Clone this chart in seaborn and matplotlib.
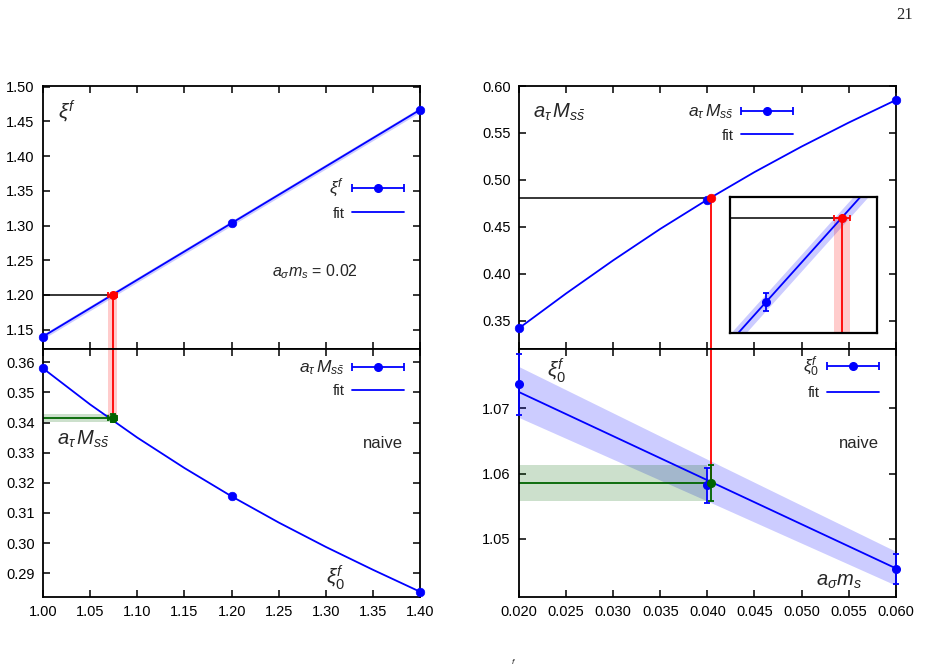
import numpy as np
import matplotlib
matplotlib.use('Agg')
import matplotlib.pyplot as plt
import seaborn as sns
from matplotlib.lines import Line2D
from matplotlib.container import ErrorbarContainer
from matplotlib.legend_handler import HandlerErrorbar
from matplotlib.ticker import FormatStrFormatter

sns.set_style('ticks')
plt.rcParams['font.family'] = ['Liberation Sans', 'DejaVu Sans']
plt.rcParams['mathtext.fontset'] = 'custom'
plt.rcParams['mathtext.rm'] = 'Liberation Sans'
plt.rcParams['mathtext.it'] = 'Liberation Sans:italic'
plt.rcParams['mathtext.bf'] = 'Liberation Sans:bold'
####################################################################
# left column: bare anisotropy xi on the x axis
xi_pts = [1.00, 1.20, 1.40]
xif_pts = [1.140, 1.303, 1.467]
xif_fit_x = [1.00, 1.40]
xif_fit = [1.140, 1.467]
xif_fit_lo = [1.1365, 1.4635]
xif_fit_hi = [1.1435, 1.4705]

mss_pts = [0.3580, 0.3157, 0.2838]
mss_fit_x = [1.00, 1.05, 1.10, 1.15, 1.20, 1.25, 1.30, 1.35, 1.40]
mss_fit = [0.3580, 0.3460, 0.3350, 0.3249, 0.3155, 0.3068, 0.2987, 0.2911, 0.2838]

xi_tuned, xi_tuned_err = 1.0739, 0.0045
xif_target = 1.20
mss_tuned, mss_tuned_err = 0.3415, 0.00125

# right column: strange quark mass a_sigma m_s on the x axis
ms_pts = [0.020, 0.03995, 0.060]
mss_r_pts = [0.342, 0.479, 0.585]
ms_fit_x = [0.020, 0.025, 0.030, 0.035, 0.040, 0.045, 0.050, 0.055, 0.060]
mss_r_fit = [0.342, 0.379, 0.4143, 0.4478, 0.479, 0.5083, 0.5355, 0.561, 0.585]

xi0_pts = [1.0737, 1.0582, 1.0454]
xi0_err = [0.0047, 0.0027, 0.0023]
xi0_fit_x = [0.020, 0.040, 0.060]
xi0_fit = [1.0725, 1.0590, 1.0455]
xi0_fit_lo = [1.0686, 1.0558, 1.0429]
xi0_fit_hi = [1.0764, 1.0622, 1.0481]

ms_tuned, ms_tuned_err = 0.0404, 0.000043
mss_phys = 0.481
xi0_tuned, xi0_tuned_err = 1.0586, 0.0028

# inset (zoom around the tuned point)
ins_fit_x = [0.0398, 0.0406]
ins_fit = [0.4780, 0.4820]
ins_band = 0.0002
ins_pt_x, ins_pt_y, ins_pt_err = 0.0400, 0.479, 0.00022
####################################################################
BLUE = '#0000ff'
RED = '#ff0000'
GREEN = '#006400'
MSS = r'$a_\tau\, M_{s\bar{s}}$'


def frame(ax, xlim, ylim, xticks, yticks, xfmt, yfmt, xlabels=True):
    ax.set_xlim(xlim)
    ax.set_ylim(ylim)
    ax.set_xticks(xticks)
    ax.set_yticks(yticks)
    ax.xaxis.set_major_formatter(FormatStrFormatter(xfmt))
    ax.yaxis.set_major_formatter(FormatStrFormatter(yfmt))
    ax.tick_params(direction='in', top=True, right=True, length=5, width=1.1,
                   labelsize=10.5, pad=6, colors='black')
    if not xlabels:
        ax.tick_params(labelbottom=False)
    for s in ax.spines.values():
        s.set_linewidth(1.3)
        s.set_color('black')
    ax.set_facecolor('white')


def legend(ax, label, anchor):
    h_pts = ax.errorbar([np.nan], [np.nan], xerr=[np.nan], fmt='o', color=BLUE,
                        ms=5.5, capsize=3, elinewidth=1.3, capthick=1.3)
    h_fit = Line2D([], [], color=BLUE, lw=1.3)
    leg = ax.legend([h_pts, h_fit], [label, 'fit'], loc='center right', bbox_to_anchor=anchor,
                    markerfirst=False, frameon=False, handlelength=3.4, fontsize=11,
                    labelspacing=0.5, borderpad=0, borderaxespad=0, handletextpad=0.5,
                    handler_map={ErrorbarContainer: HandlerErrorbar(xerr_size=1.7)})
    leg.get_texts()[0].set_fontsize(12.5)


fig = plt.figure(figsize=(9.26, 6.68), dpi=100)
ax1 = fig.add_axes([0.0464, 0.4775, 0.4075, 0.3937])
ax2 = fig.add_axes([0.0464, 0.1063, 0.4075, 0.3712])
ax3 = fig.add_axes([0.5605, 0.4775, 0.4068, 0.3937])
ax4 = fig.add_axes([0.5605, 0.1063, 0.4068, 0.3712])

xt_left = np.arange(1.00, 1.401, 0.05)
xt_right = np.arange(0.020, 0.0601, 0.005)

# ---------------- top left ----------------
frame(ax1, (1.00, 1.40), (1.122, 1.501), xt_left, np.arange(1.15, 1.501, 0.05),
      '%.2f', '%.2f', xlabels=False)
ax1.fill_between(xif_fit_x, xif_fit_lo, xif_fit_hi, color=BLUE, alpha=0.2, lw=0)
sns.lineplot(x=xif_fit_x, y=xif_fit, ax=ax1, color=BLUE, lw=1.3)
sns.scatterplot(x=xi_pts, y=xif_pts, ax=ax1, color=BLUE, s=38, edgecolor=BLUE,
                zorder=5, clip_on=False)
ax1.fill_betweenx([1.122, xif_target], xi_tuned - xi_tuned_err, xi_tuned + xi_tuned_err,
                  color=RED, alpha=0.2, lw=0)
ax1.plot([1.00, xi_tuned], [xif_target, xif_target], color='black', lw=1.1)
ax1.plot([xi_tuned, xi_tuned], [1.122, xif_target], color=RED, lw=1.3)
ax1.errorbar([xi_tuned], [xif_target], xerr=[xi_tuned_err], fmt='o', color=RED, ms=5.5,
             capsize=2.5, elinewidth=1.3, capthick=1.3, zorder=6)
ax1.text(0.04, 0.90, r'$\xi^f$', transform=ax1.transAxes, fontsize=15, ha='left', va='center')
ax1.text(0.72, 0.294, r'$a_\sigma m_s$ = 0.02', transform=ax1.transAxes, fontsize=11.5,
         ha='center', va='center')
legend(ax1, r'$\xi^f$', (0.957, 0.572))

# ---------------- bottom left ----------------
frame(ax2, (1.00, 1.40), (0.2821, 0.3644), xt_left, np.arange(0.29, 0.3601, 0.01),
      '%.2f', '%.2f')
ax2.fill_between([1.00, xi_tuned + xi_tuned_err], mss_tuned - mss_tuned_err,
                 mss_tuned + mss_tuned_err, color=GREEN, alpha=0.2, lw=0)
ax2.fill_betweenx([mss_tuned, 0.3644], xi_tuned - xi_tuned_err, xi_tuned + xi_tuned_err,
                  color=RED, alpha=0.2, lw=0)
sns.lineplot(x=mss_fit_x, y=mss_fit, ax=ax2, color=BLUE, lw=1.3)
sns.scatterplot(x=xi_pts, y=mss_pts, ax=ax2, color=BLUE, s=38, edgecolor=BLUE,
                zorder=5, clip_on=False)
ax2.plot([1.00, xi_tuned], [mss_tuned, mss_tuned], color=GREEN, lw=1.3)
ax2.plot([xi_tuned, xi_tuned], [mss_tuned, 0.3644], color=RED, lw=1.3)
ax2.errorbar([xi_tuned], [mss_tuned], xerr=[xi_tuned_err], yerr=[mss_tuned_err], fmt='o',
             color=GREEN, ms=5.5, capsize=2.5, elinewidth=1.3, capthick=1.3, zorder=6)
ax2.text(0.037, 0.637, MSS, transform=ax2.transAxes, fontsize=14.5,
         ha='left', va='center')
ax2.text(0.955, 0.617, 'naive', transform=ax2.transAxes, fontsize=12, ha='right', va='center')
ax2.text(0.775, 0.078, r'$\xi_0^f$', transform=ax2.transAxes, fontsize=15,
         ha='center', va='center')
legend(ax2, MSS, (0.957, 0.883))

# ---------------- top right ----------------
frame(ax3, (0.020, 0.060), (0.3198, 0.600), xt_right, np.arange(0.35, 0.601, 0.05),
      '%.3f', '%.2f', xlabels=False)
sns.lineplot(x=ms_fit_x, y=mss_r_fit, ax=ax3, color=BLUE, lw=1.3)
sns.scatterplot(x=ms_pts, y=mss_r_pts, ax=ax3, color=BLUE, s=38, edgecolor=BLUE,
                zorder=5, clip_on=False)
ax3.plot([0.020, ms_tuned], [mss_phys, mss_phys], color='black', lw=1.1)
ax3.plot([ms_tuned, ms_tuned], [0.3198, mss_phys], color=RED, lw=1.3)
sns.scatterplot(x=[ms_tuned], y=[mss_phys], ax=ax3, color=RED, s=38, edgecolor=RED, zorder=6)
ax3.text(0.036, 0.90, MSS, transform=ax3.transAxes, fontsize=14.5,
         ha='left', va='center')
legend(ax3, MSS, (0.728, 0.862))

ins = ax3.inset_axes([0.559, 0.062, 0.390, 0.515])
ins.set_xlim(0.039806, 0.040585)
ins.set_ylim(0.478265, 0.48149)
ins.set_xticks([])
ins.set_yticks([])
for s in ins.spines.values():
    s.set_linewidth(1.6)
    s.set_color('black')
ins.fill_between(ins_fit_x, [v - ins_band for v in ins_fit], [v + ins_band for v in ins_fit],
                 color=BLUE, alpha=0.2, lw=0)
sns.lineplot(x=ins_fit_x, y=ins_fit, ax=ins, color=BLUE, lw=1.3)
ins.errorbar([ins_pt_x], [ins_pt_y], yerr=[ins_pt_err], fmt='o', color=BLUE, ms=5.5,
             capsize=2.5, elinewidth=1.3, capthick=1.3, zorder=5)
ins.fill_betweenx([0.478265, mss_phys], ms_tuned - ms_tuned_err, ms_tuned + ms_tuned_err,
                  color=RED, alpha=0.2, lw=0)
ins.plot([0.039806, ms_tuned], [mss_phys, mss_phys], color='black', lw=1.1)
ins.plot([ms_tuned, ms_tuned], [0.478265, mss_phys], color=RED, lw=1.3)
ins.errorbar([ms_tuned], [mss_phys], xerr=[ms_tuned_err], fmt='o', color=RED, ms=5.5,
             capsize=2.5, elinewidth=1.3, capthick=1.3, zorder=6)

# ---------------- bottom right ----------------
frame(ax4, (0.020, 0.060), (1.0411, 1.0791), xt_right, [1.05, 1.06, 1.07],
      '%.3f', '%.2f')
ax4.fill_between(xi0_fit_x, xi0_fit_lo, xi0_fit_hi, color=BLUE, alpha=0.2, lw=0)
ax4.fill_between([0.020, ms_pts[1]], xi0_tuned - xi0_tuned_err, xi0_tuned + xi0_tuned_err,
                 color=GREEN, alpha=0.2, lw=0)
sns.lineplot(x=xi0_fit_x, y=xi0_fit, ax=ax4, color=BLUE, lw=1.3)
ax4.errorbar(ms_pts, xi0_pts, yerr=xi0_err, fmt='o', color=BLUE, ms=5.5, capsize=2.5,
             elinewidth=1.3, capthick=1.3, zorder=5, clip_on=False)
ax4.plot([0.020, ms_tuned], [xi0_tuned, xi0_tuned], color=GREEN, lw=1.3)
ax4.plot([ms_tuned, ms_tuned], [xi0_tuned, 1.0791], color=RED, lw=1.3)
ax4.errorbar([ms_tuned], [xi0_tuned], yerr=[xi0_tuned_err], fmt='o', color=GREEN, ms=5.5,
             capsize=2.5, elinewidth=1.3, capthick=1.3, zorder=6)
ax4.text(0.074, 0.912, r'$\xi_0^f$', transform=ax4.transAxes, fontsize=15,
         ha='left', va='center')
ax4.text(0.956, 0.617, 'naive', transform=ax4.transAxes, fontsize=12, ha='right', va='center')
ax4.text(0.91, 0.062, r'$a_\sigma m_s$', transform=ax4.transAxes, fontsize=14.5,
         ha='right', va='center')
legend(ax4, r'$\xi_0^f$', (0.956, 0.886))

# page furniture
fig.text(905 / 926, 1 - 15 / 668, '21', family='Liberation Serif', fontsize=12,
         ha='center', va='center')
fig.text(513 / 926, 2 / 668, 'f', fontsize=6, style='italic', ha='center', va='bottom')

fig.savefig('out.png', dpi=100, facecolor='white')
